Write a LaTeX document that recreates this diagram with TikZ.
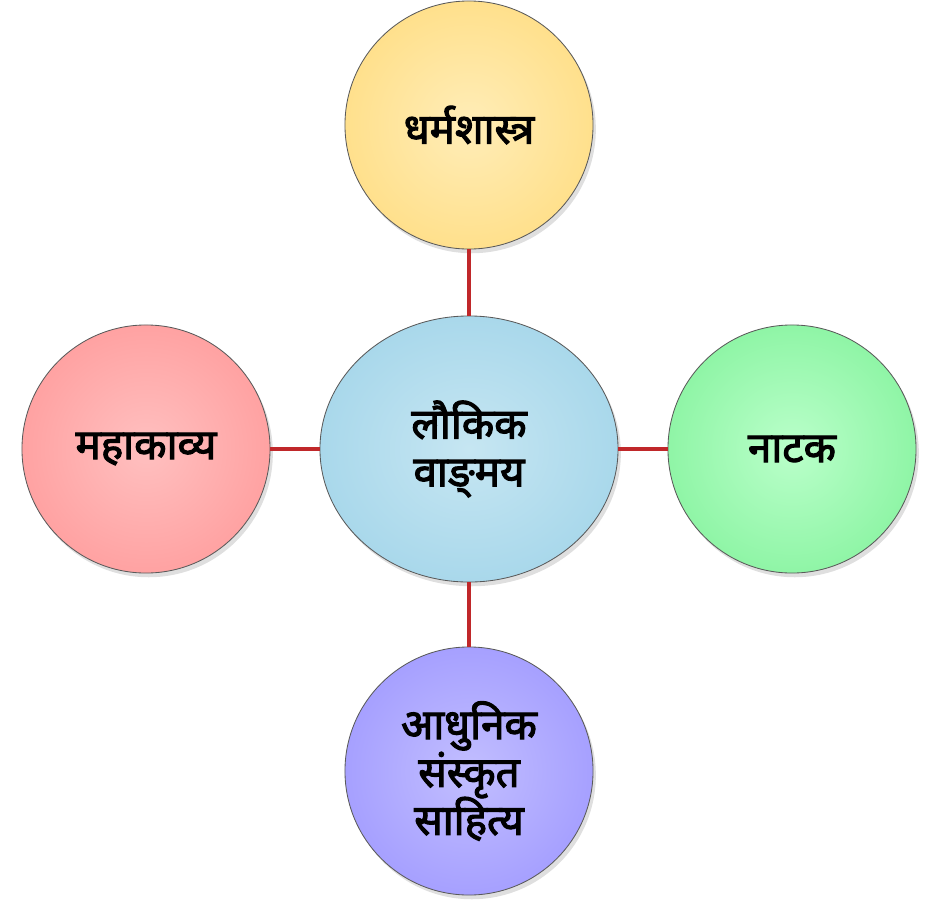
\documentclass[tikz,border=0pt]{standalone}
\usepackage{fontspec}
\usepackage{tikz}
\usepackage{xcolor}
\usetikzlibrary{positioning,shapes.geometric,shadows}
\newfontfamily\devfont[Script=Devanagari,FakeBold=2.6]{Noto Sans}
\newcommand\devtext{\devfont\fontsize{30}{34}\selectfont\lineskiplimit=-50pt\relax}
\definecolor{linkred}{HTML}{C0282A}
\definecolor{rimgray}{HTML}{5A5A5A}
\definecolor{yelout}{HTML}{FFE08C}
\definecolor{yelin}{HTML}{FFEDB8}
\definecolor{redout}{HTML}{FFA2A2}
\definecolor{redin}{HTML}{FFC0C0}
\definecolor{grnout}{HTML}{8FF5A6}
\definecolor{grnin}{HTML}{BAFFCA}
\definecolor{bluout}{HTML}{A6A0FF}
\definecolor{bluin}{HTML}{C2BEFF}
\definecolor{skyout}{HTML}{A9D8EB}
\definecolor{skyin}{HTML}{C6E6F2}
\tikzset{
  topic/.style={circle,draw=rimgray,line width=0.6pt,
                minimum size=6.2cm,inner sep=2pt,align=center,font=\devtext,
                drop shadow={opacity=0.25,shadow xshift=2pt,shadow yshift=-3pt}},
  hub/.style={ellipse,draw=rimgray,line width=0.6pt,
              minimum width=7.45cm,minimum height=6.65cm,inner sep=2pt,align=center,
              shade,inner color=skyin,outer color=skyout,font=\devtext,
              drop shadow={opacity=0.25,shadow xshift=2pt,shadow yshift=-3pt}},
  link/.style={draw=linkred,line width=2.8pt}
}
\begin{document}
\begin{tikzpicture}[x=0.025cm,y=-0.025cm]
  \useasboundingbox (0,0) rectangle (950,903);
  % centre and the four topics
  \node[hub] (lok) at (469,449) {लौकिक\\वाङ्^^^^200cमय};
  \node[topic,shade,inner color=yelin,outer color=yelout] (dharma) at (469,125) {धर्मशास्त्र};
  \node[topic,shade,inner color=redin,outer color=redout] (maha) at (146,449) {महाकाव्य};
  \node[topic,shade,inner color=grnin,outer color=grnout] (natak) at (792,449) {नाटक};
  \node[topic,shade,inner color=bluin,outer color=bluout] (adhu) at (469,771) {आधुनिक\\संस्कृत\\साहित्य};

  % links
  \draw[link] (lok) -- (dharma);
  \draw[link] (lok) -- (maha);
  \draw[link] (lok) -- (natak);
  \draw[link] (lok) -- (adhu);
\end{tikzpicture}
\end{document}
